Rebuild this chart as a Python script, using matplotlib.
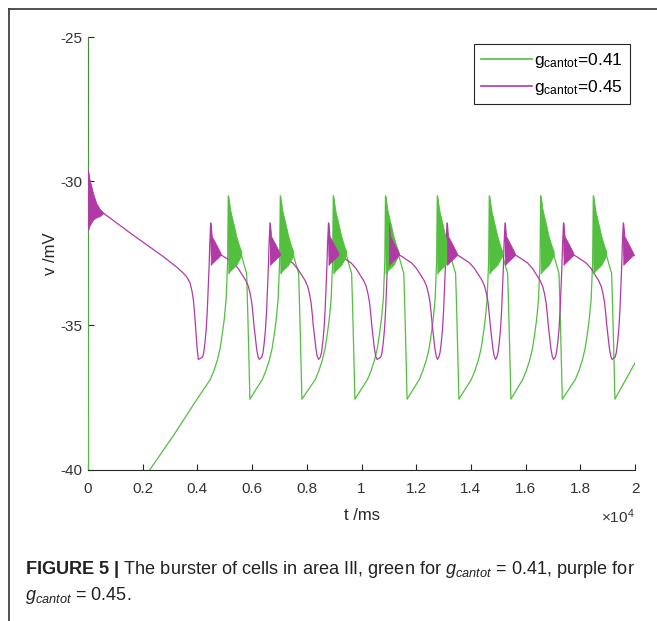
import numpy as np
import matplotlib
matplotlib.use("Agg")
import matplotlib.pyplot as plt
from matplotlib.lines import Line2D

plt.rcParams['font.family'] = ['Liberation Sans', 'DejaVu Sans']
plt.rcParams['mathtext.fontset'] = 'custom'
plt.rcParams['mathtext.rm'] = 'Liberation Sans'
plt.rcParams['mathtext.it'] = 'Liberation Sans:italic'
plt.rcParams['mathtext.bf'] = 'Liberation Sans:bold'
plt.rcParams['axes.unicode_minus'] = False

# ---- data (t in ms, v in mV) ----
green_bursts = [5130, 7031, 8969, 10877, 12771, 14673, 16552, 18476]
purple_bursts = [4486, 6654, 8793, 11005, 13126, 15247, 17386, 19572]

# green cycle: ramp before a burst, burst/plateau/drop after it
green_pre_dt = [-660, -530, -400, -300, -220, -150, -80, -25]
green_pre_v = [-36.88, -36.58, -36.2, -35.8, -35.3, -34.8, -34.1, -32.8]
green_post_dt = [0, 40, 475, 670, 710, 750, 790]
green_post_v = [-30.5, -32.9, -32.55, -33.2, -34.5, -36.0, -37.56]
green_fuzz_dt = [0, 73, 183, 292, 402, 475]
green_fuzz_hi = [-30.5, -31.0, -31.44, -31.9, -32.25, -32.43]
green_fuzz_lo = [-33.2, -33.1, -33.0, -32.9, -32.7, -32.55]
green_start_t = [0, 20, 1535, 2267, 3119, 3985]
green_start_v = [-24.0, -46.0, -41.0, -40.0, -38.83, -37.56]
green_end_t = [20000]
green_end_v = [-36.3]

# purple cycle
purple_pre_dt = [-300, -256, -210, -165, -125, -91, -60, -37]
purple_pre_v = [-36.1, -35.95, -35.6, -35.14, -34.5, -33.75, -33.0, -32.25]
purple_post_dt = [0, 30, 365, 460, 826, 1010, 1192, 1290, 1375, 1440, 1500, 1545,
                  1583, 1682, 1730, 1777]
purple_post_v = [-31.44, -32.6, -32.55, -32.6, -32.83, -33.03, -33.3, -33.45, -33.64,
                 -33.88, -34.2, -34.6, -35.0, -35.83, -36.08, -36.18]
purple_fuzz_dt = [0, 40, 150, 260, 365]
purple_fuzz_hi = [-31.44, -31.9, -32.1, -32.3, -32.5]
purple_fuzz_lo = [-32.9, -32.85, -32.75, -32.65, -32.55]
purple_start_t = [0, 560, 1540, 2736, 3250, 3467, 3620, 3729, 3800, 3851, 3900, 3949,
                  3990, 4035]
purple_start_v = [-30.6, -31.1, -31.79, -32.6, -32.98, -33.17, -33.33, -33.52, -33.8,
                  -34.1, -34.6, -35.25, -35.8, -36.18]
purple_init_fuzz_t = [0, 50, 183, 300, 440, 560]
purple_init_fuzz_hi = [-29.6, -29.9, -30.4, -30.75, -30.98, -31.1]
purple_init_fuzz_lo = [-31.7, -31.55, -31.33, -31.25, -31.2, -31.1]

x_ticks = [0, 2000, 4000, 6000, 8000, 10000, 12000, 14000, 16000, 18000, 20000]
x_ticklabels = ['0', '0.2', '0.4', '0.6', '0.8', '1', '1.2', '1.4', '1.6', '1.8', '2']
y_ticks = [-40, -35, -30, -25]

GREEN = '#52bf3f'
PURPLE = '#b23aa6'


def build(start_t, start_v, bursts, pre_dt, pre_v, post_dt, post_v, end_t, end_v):
    t = list(start_t)
    v = list(start_v)
    for b in bursts:
        t += [b + d for d in pre_dt]
        v += list(pre_v)
        t += [b + d for d in post_dt]
        v += list(post_v)
    t += list(end_t)
    v += list(end_v)
    return np.array(t), np.array(v)


gt, gv = build(green_start_t, green_start_v, green_bursts, green_pre_dt, green_pre_v,
               green_post_dt, green_post_v, green_end_t, green_end_v)
pt, pv = build(purple_start_t, purple_start_v, purple_bursts, purple_pre_dt, purple_pre_v,
               purple_post_dt, purple_post_v, [], [])

fig = plt.figure(figsize=(6.57, 6.21), dpi=100)
ax = fig.add_axes([88 / 657, 1 - 469.5 / 621, 547 / 657, 432.2 / 621])

ax.plot(gt, gv, color=GREEN, lw=0.9, zorder=3)
ax.plot(pt, pv, color=PURPLE, lw=0.9, zorder=3)

for b in green_bursts:
    ax.fill_between([b + d for d in green_fuzz_dt], green_fuzz_lo, green_fuzz_hi,
                    color=GREEN, lw=0.6, zorder=3)
for b in purple_bursts:
    ax.fill_between([b + d for d in purple_fuzz_dt], purple_fuzz_lo, purple_fuzz_hi,
                    color=PURPLE, lw=0.6, zorder=3)
ax.fill_between(purple_init_fuzz_t, purple_init_fuzz_lo, purple_init_fuzz_hi,
                color=PURPLE, lw=0.6, zorder=3)

ax.set_xlim(0, 20000)
ax.set_ylim(-40, -25)
ax.set_xticks(x_ticks)
ax.set_xticklabels(x_ticklabels)
ax.set_yticks(y_ticks)
ax.spines['top'].set_visible(False)
ax.spines['right'].set_visible(False)
for s in ['left', 'bottom']:
    ax.spines[s].set_color('#262626')
    ax.spines[s].set_linewidth(0.8)
ax.tick_params(direction='in', length=4, width=0.8, colors='#262626',
               labelsize=11, labelcolor='#333333')
ax.tick_params(axis='x', pad=9)
ax.tick_params(axis='y', pad=4)

ax.set_xlabel('t /ms', fontsize=12, color='#262626', labelpad=9)
ax.set_ylabel('v /mV', fontsize=12, color='#262626', labelpad=2)
fig.text(635 / 657, 1 - 517 / 621, r'$\times$10$^4$', ha='right', va='center',
         fontsize=11, color='#333333')

handles = [Line2D([], [], color=GREEN, lw=1.2), Line2D([], [], color=PURPLE, lw=1.2)]
leg = fig.legend(handles, [r'g$_{\mathrm{cantot}}$=0.41', r'g$_{\mathrm{cantot}}$=0.45'],
                 loc='upper right', bbox_to_anchor=(630 / 657, 1 - 44 / 621),
                 fontsize=12.5, handlelength=2.9, handletextpad=0.15, borderpad=0.4,
                 labelspacing=0.45, frameon=True, fancybox=False, framealpha=1,
                 edgecolor='#262626', borderaxespad=0)
leg.get_frame().set_linewidth(0.8)

# outer frame of the figure panel
fig.add_artist(Line2D([8.5 / 657, 8.5 / 657], [0, 1 - 9 / 621], color='#333333', lw=1.2))
fig.add_artist(Line2D([8.5 / 657, 1], [1 - 9 / 621, 1 - 9 / 621], color='#333333', lw=1.2))

# caption
fig.text(25 / 657, 1 - 569 / 621,
         r'$\mathbf{FIGURE\ 5\ |}$ The burster of cells in area III, green for '
         r'$\mathit{g}_{\mathit{cantot}}$ = 0.41, purple for',
         ha='left', va='center', fontsize=13.1, color='#222222')
fig.text(25 / 657, 1 - 595 / 621, r'$\mathit{g}_{\mathit{cantot}}$ = 0.45.',
         ha='left', va='center', fontsize=13.1, color='#222222')

fig.savefig('out.png', dpi=100)
